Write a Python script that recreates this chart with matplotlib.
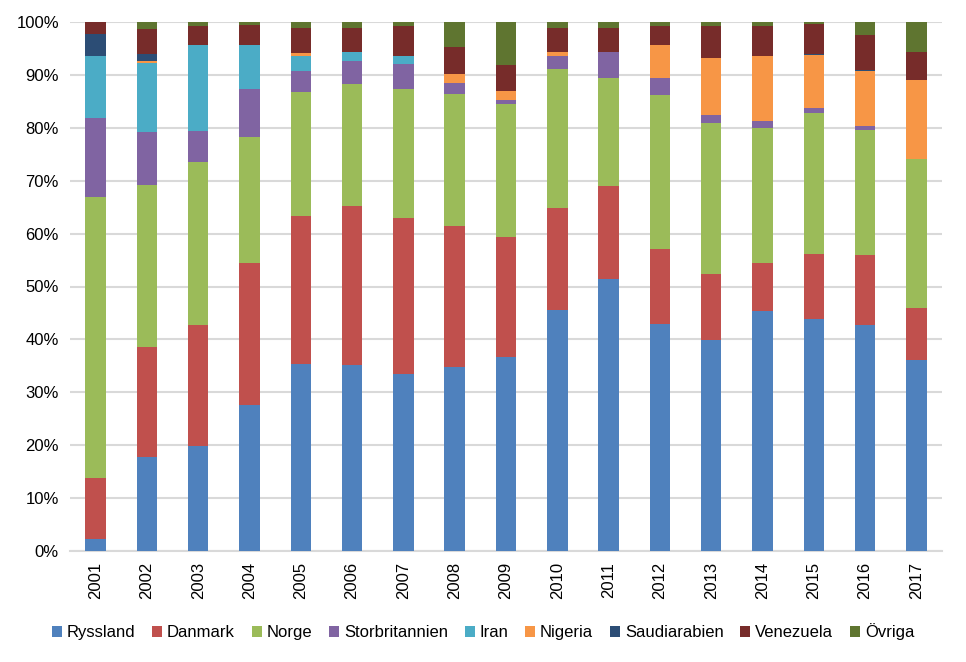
import matplotlib
matplotlib.use("Agg")
import matplotlib.pyplot as plt
import numpy as np
from matplotlib.ticker import FuncFormatter

years = [str(y) for y in range(2001, 2018)]

series_names = ["Ryssland", "Danmark", "Norge", "Storbritannien", "Iran",
                "Nigeria", "Saudiarabien", "Venezuela", "Övriga"]

ryssland       = [2.3, 17.7, 19.9, 27.6, 35.4, 35.2, 33.5, 34.8, 36.7, 45.6, 51.5, 42.9, 39.9, 45.4, 43.8, 42.7, 36.1]
danmark        = [11.5, 20.9, 22.8, 26.9, 27.9, 30.0, 29.5, 26.6, 22.7, 19.2, 17.5, 14.2, 12.5, 9.1, 12.3, 13.3, 9.9]
norge          = [53.2, 30.6, 30.9, 23.8, 23.5, 23.1, 24.3, 25.0, 25.1, 26.3, 20.4, 29.1, 28.5, 25.5, 26.7, 23.6, 28.1]
storbritannien = [14.8, 10.1, 5.8, 9.0, 3.9, 4.3, 4.8, 2.0, 0.8, 2.4, 5.0, 3.2, 1.5, 1.3, 0.9, 0.7, 0.0]
iran           = [11.8, 12.9, 16.3, 8.4, 2.9, 1.7, 1.5, 0.0, 0.0, 0.0, 0.0, 0.0, 0.0, 0.0, 0.0, 0.0, 0.0]
nigeria        = [0.0, 0.5, 0.0, 0.0, 0.6, 0.0, 0.0, 1.8, 1.7, 0.9, 0.0, 6.3, 10.8, 12.3, 10.0, 10.4, 14.9]
saudiarabien   = [4.1, 1.3, 0.0, 0.0, 0.0, 0.0, 0.0, 0.0, 0.0, 0.0, 0.0, 0.0, 0.0, 0.0, 0.3, 0.3, 0.0]
venezuela      = [2.3, 4.7, 3.6, 3.7, 4.7, 4.6, 5.7, 5.0, 4.9, 4.5, 4.4, 3.5, 6.0, 5.6, 5.6, 6.5, 5.3]
ovriga         = [0.0, 1.3, 0.7, 0.6, 1.1, 1.1, 0.7, 4.8, 8.1, 1.1, 1.2, 0.8, 0.8, 0.8, 0.4, 2.5, 5.7]

series_values = [ryssland, danmark, norge, storbritannien, iran,
                 nigeria, saudiarabien, venezuela, ovriga]
colors = ["#4F81BD", "#C0504D", "#9BBB59", "#8064A2", "#4BACC6",
          "#F79646", "#2C4D75", "#772C2A", "#5F7530"]

plt.rcParams['font.family'] = ['Liberation Sans Narrow', 'Liberation Sans', 'DejaVu Sans']

fig = plt.figure(figsize=(9.66, 6.62), dpi=100)
ax = fig.add_axes([70/966, 1-551/662, (942-70)/966, (551-22)/662])

x = np.arange(len(years))
bottom = np.zeros(len(years))
for name, vals, c in zip(series_names, series_values, colors):
    v = np.array(vals, dtype=float)
    ax.bar(x, v, width=0.4, bottom=bottom, color=c, label=name, zorder=3)
    bottom += v

ax.set_xlim(-0.5, len(years)-0.5)
ax.set_ylim(0, 100)
ax.set_yticks(np.arange(0, 101, 10))
ax.yaxis.set_major_formatter(FuncFormatter(lambda v, p: f"{int(v)}%"))
ax.grid(axis='y', color='#D9D9D9', linewidth=1.5, zorder=0)
for s in ['top', 'right', 'left']:
    ax.spines[s].set_visible(False)
ax.spines['bottom'].set_color('#D9D9D9')
ax.spines['bottom'].set_linewidth(1.5)
ax.set_xticks(x)
ax.set_xticklabels(years, rotation=90, fontsize=12)
ax.tick_params(axis='both', length=0, labelsize=12, colors='black')
ax.tick_params(axis='y', pad=8)
ax.tick_params(axis='x', pad=8)

leg = fig.legend(loc='center', bbox_to_anchor=(0.5, 1-632/662), ncol=9, frameon=False,
                 fontsize=12, handlelength=0.6, handleheight=0.6, handletextpad=0.3,
                 columnspacing=1.0)

fig.savefig("out.png", dpi=100)
